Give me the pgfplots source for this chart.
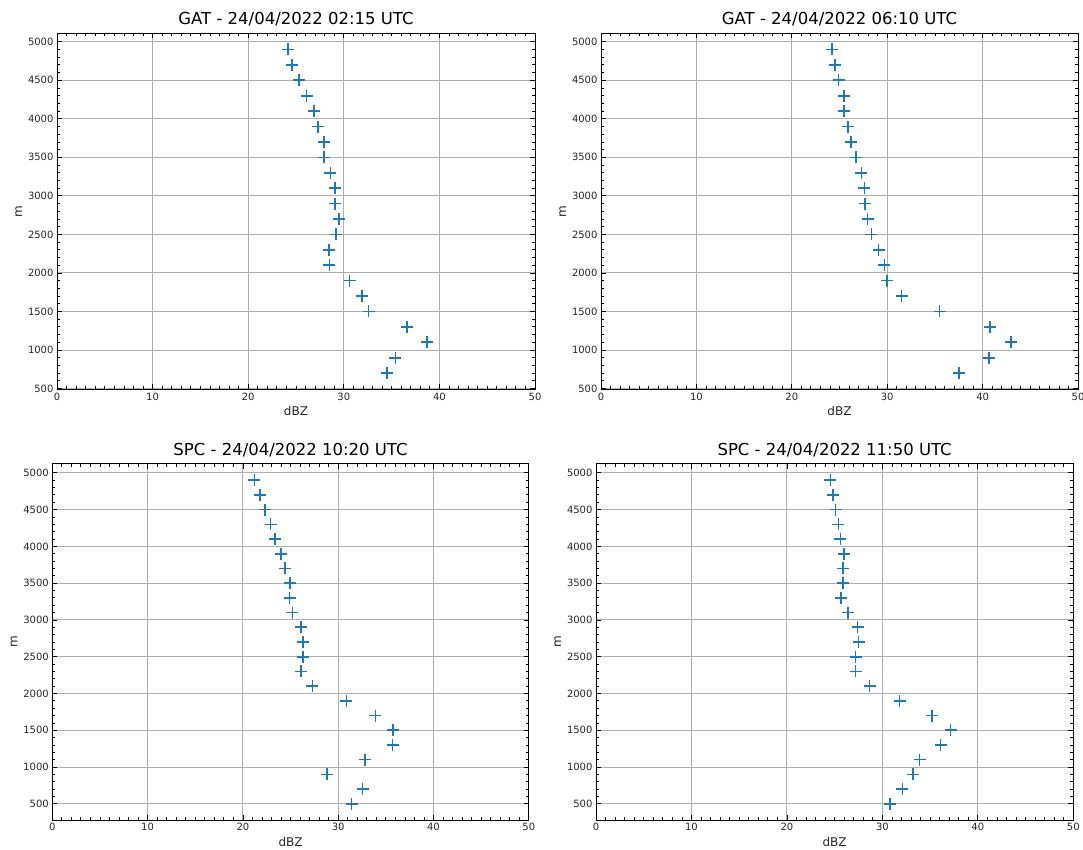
\documentclass[border=0pt]{standalone}
\usepackage{fontspec}
\setmainfont{DejaVu Sans}
\usepackage{pgfplots}
\pgfplotsset{compat=1.18}
\definecolor{mplblue}{RGB}{31,119,180}
\definecolor{gridgray}{RGB}{176,176,176}
\pgfplotsset{
  radar/.style={
    scale only axis,
    width=478pt, height=356pt,
    xmin=0, xmax=50,
    xtick={0,10,20,30,40,50},
    ytick={500,1000,1500,2000,2500,3000,3500,4000,4500,5000},
    minor x tick num=9,
    minor y tick num=4,
    tick align=inside,
    xtick pos=both, ytick pos=both,
    xticklabel pos=lower, yticklabel pos=left,
    major tick length=5pt, minor tick length=3pt,
    every tick/.style={black, line width=0.8pt},
    grid=major,
    major grid style={gridgray, line width=0.9pt},
    axis line style={black, line width=1pt},
    /pgf/number format/assume math mode=true,
    /pgf/number format/1000 sep={},
    ticklabel style={font=\fontsize{10}{12}\selectfont, color=black!85},
    label style={font=\fontsize{12}{14}\selectfont, color=black!85},
    title style={font=\fontsize{16.5}{19}\selectfont, yshift=-2.5pt},
    xlabel={dBZ}, ylabel={m},
    xlabel style={yshift=1pt},
    ylabel style={yshift=-1pt},
    clip=false,
  },
  pts/.style={only marks, mark=+, mark size=6pt, line width=1.6pt, color=mplblue},
}
\begin{document}
\begin{tikzpicture}[x=1pt,y=1pt]
\useasboundingbox (0,0) rectangle (1083,849);
% Top left
\begin{axis}[radar, at={(57pt,459.7pt)}, anchor=south west,
  ymin=490, ymax=5110, title={GAT - 24/04/2022 02:15 UTC}]
\addplot[pts] coordinates {
(24.15,4900) (24.6,4700) (25.3,4500) (26.1,4300) (26.9,4100) (27.3,3900)
(27.9,3700) (27.9,3500) (28.6,3300) (29.05,3100) (29.05,2900) (29.5,2700)
(29.2,2500) (28.45,2300) (28.5,2100) (30.6,1900) (31.9,1700) (32.6,1500)
(36.6,1300) (38.7,1100) (35.4,900) (34.5,700)};
\end{axis}
% Top right
\begin{axis}[radar, at={(601pt,459.7pt)}, anchor=south west, width=477pt,
  ymin=490, ymax=5110, title={GAT - 24/04/2022 06:10 UTC}]
\addplot[pts] coordinates {
(24.2,4900) (24.55,4700) (24.9,4500) (25.5,4300) (25.5,4100) (25.9,3900)
(26.2,3700) (26.7,3500) (27.3,3300) (27.6,3100) (27.7,2900) (27.95,2700)
(28.35,2500) (29.1,2300) (29.7,2100) (29.95,1900) (31.5,1700) (35.5,1500)
(40.8,1300) (43.0,1100) (40.7,900) (37.5,700)};
\end{axis}
% Bottom left
\begin{axis}[radar, at={(52.3pt,29pt)}, anchor=south west, width=476.5pt,
  ymin=280, ymax=5120, title={SPC - 24/04/2022 10:20 UTC}]
\addplot[pts] coordinates {
(21.2,4900) (21.8,4700) (22.3,4500) (22.9,4300) (23.35,4100) (24.0,3900)
(24.4,3700) (24.95,3500) (24.9,3300) (25.2,3100) (26.1,2900) (26.3,2700)
(26.3,2500) (26.1,2300) (27.3,2100) (30.85,1900) (33.9,1700) (35.75,1500)
(35.7,1300) (32.8,1100) (28.85,900) (32.55,700) (31.4,500)};
\end{axis}
% Bottom right
\begin{axis}[radar, at={(596pt,29pt)}, anchor=south west, width=477.3pt,
  ymin=280, ymax=5120, title={SPC - 24/04/2022 11:50 UTC}]
\addplot[pts] coordinates {
(24.55,4900) (24.8,4700) (25.1,4500) (25.4,4300) (25.6,4100) (25.95,3900)
(25.9,3700) (25.85,3500) (25.65,3300) (26.4,3100) (27.4,2900) (27.5,2700)
(27.2,2500) (27.2,2300) (28.65,2100) (31.8,1900) (35.2,1700) (37.15,1500)
(36.1,1300) (33.9,1100) (33.2,900) (32.1,700) (30.8,500)};
\end{axis}
\end{tikzpicture}
\end{document}
